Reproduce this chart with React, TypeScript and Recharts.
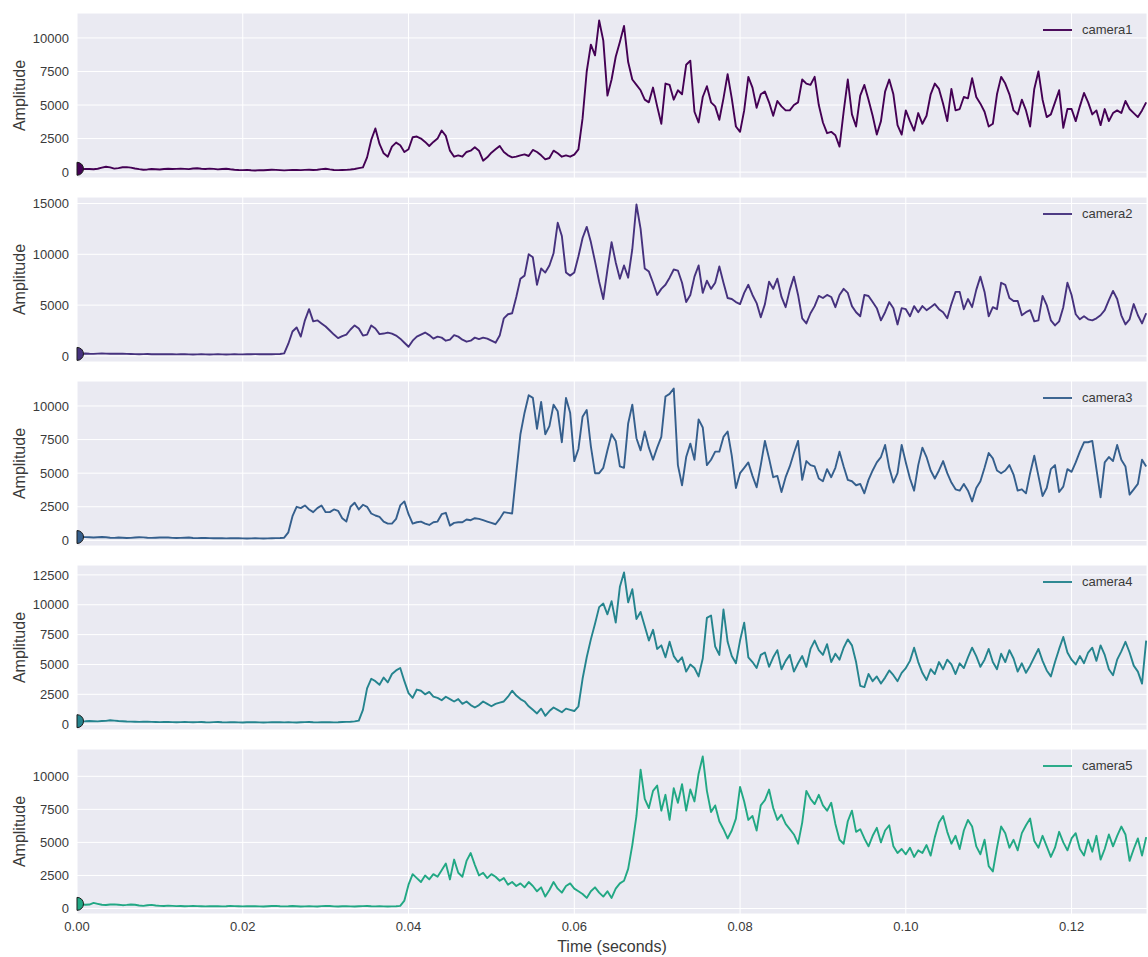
import { LineChart, Line, XAxis, YAxis, CartesianGrid, Legend, ReferenceDot } from 'recharts';

// sample spacing of the traces (seconds)
const DT = 0.0005;

const camera1 = [
  250, 220, 240, 230, 210, 250, 330, 400, 350, 260,
  300, 360, 370, 330, 270, 220, 180, 200, 230, 210,
  190, 230, 250, 230, 240, 260, 240, 220, 270, 290,
  250, 230, 260, 240, 200, 230, 250, 210, 180, 160,
  150, 170, 140, 120, 150, 140, 160, 180, 170, 150,
  130, 150, 160, 170, 150, 170, 180, 160, 180, 220,
  250, 200, 160, 150, 160, 170, 190, 230, 300, 350,
  1100, 2400, 3250, 2100, 1400, 1150, 1900, 2200, 2000, 1500,
  1700, 2600, 2650, 2500, 2250, 1950, 2250, 2500, 3100, 2700,
  1600, 1150, 1250, 1150, 1500, 1600, 1850, 1600, 850, 1100,
  1450, 1700, 1950, 1500, 1250, 1100, 1150, 1250, 1320, 1200,
  1650, 1500, 1250, 950, 1050, 1600, 1400, 1150, 1250, 1150,
  1300, 1700, 4000, 7500, 9500, 8700, 11300, 9800, 5700, 6900,
  8600, 9700, 10900, 8200, 6900, 6500, 6100, 5400, 5200, 6300,
  4900, 3600, 6600, 6500, 5400, 6100, 5800, 8000, 8300, 4500,
  3700, 5600, 6400, 5200, 4900, 3900, 5500, 7300, 5500, 3400,
  3000, 4600, 7100, 6300, 4800, 5800, 6000, 5200, 4200, 5300,
  4900, 4600, 4600, 5000, 5200, 6900, 6600, 6500, 7100, 5000,
  3700, 2900, 3000, 2750, 1900, 4500, 6900, 4300, 3400, 5700,
  6500, 5400, 4200, 2800, 3800, 6000, 6900, 5800, 3500, 2800,
  4600, 3800, 3100, 4400, 3600, 4200, 5800, 6600, 6200, 5100,
  3800, 6200, 4600, 4700, 5600, 5500, 7000, 5600, 5100, 4500,
  3400, 3600, 5800, 7100, 6600, 5800, 4600, 4300, 5400, 4600,
  3400, 6200, 7500, 5400, 4100, 4300, 5200, 6100, 3300, 4700,
  4700, 3800, 4900, 5900, 5200, 4300, 4600, 3500, 4700, 3800,
  4400, 4600, 4400, 5300, 4700, 4400, 4100, 4600, 5200,
];

const camera2 = [
  200, 220, 240, 210, 200, 230, 250, 230, 220, 210,
  230, 220, 200, 190, 180, 170, 180, 190, 170, 160,
  170, 180, 170, 160, 150, 160, 170, 150, 140, 150,
  160, 150, 140, 150, 160, 150, 140, 150, 160, 150,
  150, 160, 170, 180, 170, 160, 170, 170, 180, 190,
  250, 1200, 2400, 2800, 1900, 3500, 4600, 3400, 3500, 3200,
  2900, 2500, 2100, 1750, 1950, 2100, 2600, 3000, 2700, 2000,
  2100, 3000, 2700, 2150, 2200, 2300, 2200, 2000, 1700, 1300,
  900, 1500, 1900, 2100, 2300, 2050, 1700, 1900, 1800, 1500,
  1600, 2050, 1900, 1600, 1400, 1500, 1800, 1650, 1800, 1700,
  1500, 1300, 2000, 3700, 4100, 4200, 5800, 7600, 7900, 10000,
  9700, 7000, 8600, 8200, 8900, 10100, 13100, 11800, 8200, 7900,
  8200, 9800, 11600, 12700, 11200, 9300, 7300, 5600, 8500, 11200,
  9200, 7600, 8900, 7700, 10500, 14900, 12500, 8600, 8300, 7200,
  6000, 6600, 7000, 7700, 8500, 8400, 7200, 5300, 6000, 7800,
  8900, 6200, 7400, 6600, 7200, 8800, 7200, 5700, 5600, 5300,
  5100, 6200, 7000, 6000, 5200, 3800, 5100, 7300, 6600, 7600,
  5800, 4800, 6500, 7800, 6000, 3700, 3200, 4200, 4900, 5900,
  5700, 6000, 5800, 4800, 6000, 6600, 6200, 4900, 4300, 3900,
  6000, 5900, 5300, 4700, 3500, 4300, 5300, 4700, 3100, 4700,
  4600, 3900, 4900, 4300, 4900, 4500, 4800, 5100, 4600, 4300,
  3700, 5100, 6300, 6300, 4600, 5600, 4800, 6500, 7800, 6300,
  3900, 4800, 4600, 7200, 7000, 5700, 5400, 5400, 4000, 4300,
  4500, 3400, 3500, 5900, 5000, 3500, 3000, 3400, 4800, 7200,
  6000, 4100, 3600, 3900, 3600, 3500, 3700, 4000, 4500, 5500,
  6400, 5600, 4000, 3100, 3600, 5100, 4000, 3200, 4200,
];

const camera3 = [
  250, 260, 240, 230, 210, 230, 250, 230, 200, 190,
  210, 200, 180, 190, 210, 230, 220, 200, 190, 200,
  210, 220, 210, 190, 180, 190, 200, 210, 180, 170,
  180, 190, 170, 160, 170, 160, 150, 160, 170, 160,
  150, 140, 150, 160, 150, 140, 150, 160, 170, 180,
  200, 600, 1800, 2500, 2400, 2600, 2300, 2100, 2400, 2600,
  2100, 2100, 2300, 2200, 1650, 1400, 2500, 2800, 2300, 2650,
  2500, 2000, 1850, 1750, 1400, 1250, 1250, 1600, 2600, 2900,
  1950, 1250, 1350, 1400, 1250, 1150, 1350, 1400, 1950, 2050,
  1100, 1300, 1350, 1350, 1550, 1500, 1650, 1600, 1500, 1400,
  1300, 1200, 1600, 2100, 2050, 2000, 5000, 7900, 9500, 10800,
  10600, 8300, 10300, 7900, 8500, 10100, 9600, 7300, 10600, 9500,
  5900, 6800, 9200, 9700, 7000, 5000, 5000, 5400, 6700, 7900,
  7400, 5500, 5400, 8700, 10100, 7600, 6700, 8100, 6900, 6000,
  6900, 7700, 10700, 10900, 11300, 5600, 4100, 6200, 7200, 6000,
  9000, 8400, 5600, 6000, 6600, 6600, 7700, 8100, 6300, 3900,
  5000, 5400, 5800, 4800, 3950, 5600, 7400, 6100, 4700, 4800,
  3600, 4700, 5500, 6500, 7400, 4500, 5900, 5600, 5500, 4600,
  4400, 5300, 4700, 5400, 6600, 5500, 4500, 4400, 4100, 4200,
  3500, 4500, 5200, 5800, 6200, 7100, 5400, 4300, 5000, 7100,
  5800, 4600, 3700, 5600, 6900, 6200, 5200, 4600, 5200, 5900,
  5000, 4300, 3800, 3700, 4200, 3700, 2900, 3900, 4400, 5400,
  6500, 6100, 5200, 5000, 5200, 5600, 4900, 3700, 3800, 3500,
  5000, 6300, 4800, 3300, 3900, 5300, 5600, 3600, 4000, 5300,
  5100, 5800, 6600, 7300, 7300, 7400, 5300, 3200, 5800, 6200,
  5900, 7100, 6000, 5500, 3400, 3800, 4200, 6000, 5500,
];

const camera4 = [
  250, 230, 240, 260, 250, 230, 260, 280, 330, 300,
  260, 240, 220, 210, 200, 190, 200, 210, 190, 180,
  170, 180, 190, 170, 160, 170, 180, 170, 160, 170,
  180, 160, 150, 170, 180, 160, 150, 160, 170, 150,
  140, 160, 170, 160, 150, 140, 150, 160, 170, 160,
  150, 160, 150, 140, 160, 170, 180, 160, 150, 160,
  170, 160, 150, 160, 180, 190, 200, 230, 300, 1200,
  3000, 3800, 3600, 3300, 3900, 3500, 4200, 4500, 4700, 3600,
  2600, 2200, 2900, 2800, 2500, 2700, 2300, 2200, 2000, 2300,
  2100, 1900, 2100, 1700, 1900, 1600, 1400, 1600, 1900, 1700,
  1500, 1700, 1800, 1900, 2300, 2800, 2400, 2100, 1900, 1500,
  1200, 900, 1300, 700, 1100, 1400, 1200, 1000, 1300, 1200,
  1100, 1500, 3800, 5600, 7100, 8400, 9800, 10100, 9200, 10300,
  8500, 11500, 12700, 10200, 11300, 8800, 9400, 8200, 7000, 7900,
  6300, 6600, 5600, 6900, 5700, 5200, 5600, 4400, 5000, 4700,
  4000, 5500, 8900, 9100, 6500, 5800, 9600, 6900, 5700, 5100,
  7000, 8500, 5600, 5200, 4700, 5800, 6000, 4800, 5600, 6200,
  4600, 5300, 5800, 4400, 5100, 5700, 4800, 6300, 7000, 6200,
  5800, 6700, 5200, 5900, 5400, 6400, 7100, 6600, 5200, 3200,
  3100, 4200, 3600, 4000, 3400, 3900, 4500, 4100, 3600, 4300,
  4700, 5300, 6400, 5200, 4300, 3700, 4600, 4200, 5200, 4600,
  5400, 5000, 4200, 5100, 4700, 5600, 6400, 5700, 4800, 5400,
  6300, 5200, 4600, 5900, 5200, 6200, 5500, 4400, 5100, 4300,
  4900, 5600, 6300, 5300, 4500, 4000, 5200, 6300, 7300, 6000,
  5400, 5000, 5700, 5100, 6000, 6400, 5300, 6600, 5800, 4600,
  4100, 5400, 6100, 6900, 6000, 4900, 4400, 3400, 7000,
];

const camera5 = [
  350, 320, 280, 300, 420, 350, 280, 260, 300, 310,
  280, 250, 270, 300, 280, 230, 200, 240, 270, 230,
  200, 190, 220, 200, 180, 190, 170, 180, 200, 180,
  170, 160, 170, 180, 170, 160, 170, 200, 180, 170,
  160, 170, 180, 170, 160, 150, 170, 190, 200, 170,
  160, 170, 190, 170, 150, 160, 170, 160, 150, 180,
  200, 190, 160, 150, 170, 180, 160, 150, 170, 180,
  190, 170, 160, 170, 160, 150, 160, 170, 200, 600,
  1800, 2600, 2300, 2000, 2500, 2200, 2600, 2400, 2900, 3400,
  2200, 3700, 2700, 2400, 3600, 4200, 3300, 2500, 2700, 2300,
  2600, 2400, 2100, 2300, 1800, 2000, 1700, 1900, 1600, 2000,
  1700, 1300, 1600, 900, 1400, 2000, 1500, 1200, 1700, 1900,
  1500, 1300, 1100, 800, 1300, 1600, 1200, 900, 1300, 800,
  1500, 1900, 2100, 3000, 4800, 7000, 10500, 8300, 7600, 8900,
  9300, 7400, 8600, 6700, 9100, 8000, 9400, 7400, 9000, 8100,
  10200, 11500, 8900, 7300, 7800, 6600, 6000, 5300, 5900, 6800,
  9200, 8100, 6700, 7000, 5900, 7800, 8200, 9000, 7600, 6700,
  7100, 6400, 6000, 5600, 4900, 6500, 8900, 8300, 7900, 8600,
  7800, 7400, 8000, 6400, 5200, 4900, 6600, 7400, 5800, 6000,
  5300, 4700, 5500, 6100, 5000, 5900, 6300, 4700, 4200, 4500,
  4100, 4600, 3900, 4400, 4200, 4800, 4000, 5400, 6500, 7000,
  5800, 4900, 5500, 4500, 5900, 6700, 6200, 4700, 4100, 5200,
  3200, 2800, 4600, 6200, 5700, 4600, 5200, 4400, 5700, 6300,
  6800, 5100, 4600, 5500, 4700, 3900, 4600, 5800, 5000, 4400,
  5300, 5700, 4500, 4000, 5200, 4300, 5500, 3700, 4500, 5600,
  4700, 5500, 6200, 5600, 3600, 4500, 5300, 4000, 5400,
];

const xTicks = [0, 0.02, 0.04, 0.06, 0.08, 0.1, 0.12];
const ticks10k = [0, 2500, 5000, 7500, 10000];
const ticks12k = [0, 2500, 5000, 7500, 10000, 12500];
const ticks15k = [0, 5000, 10000, 15000];
const X_MAX = 0.1291;

const panels = [
  { name: 'camera1', values: camera1, color: '#440154', ticks: ticks10k },
  { name: 'camera2', values: camera2, color: '#46327e', ticks: ticks15k },
  { name: 'camera3', values: camera3, color: '#355f8d', ticks: ticks10k },
  { name: 'camera4', values: camera4, color: '#25848e', ticks: ticks12k },
  { name: 'camera5', values: camera5, color: '#22a884', ticks: ticks10k },
];

const W = 1148;
const PLOT_H = 165;
const STEP = 184;
const TOP = 13;
const X_AXIS_H = 46;
const BOTTOM_PAD = 10; // room for the "0" tick label under hidden x axes
const FONT = '"Liberation Sans", Arial, Helvetica, sans-serif';
const TEXT = '#3a3a3a';

// marker at t=0, only the right half shows (clipped at axes edge in the original)
const HalfDot = (props: any) => {
  const { cx, cy, fill } = props;
  const r = 6.5;
  return (
    <path
      d={`M${cx},${cy - r} A${r},${r} 0 0 1 ${cx},${cy + r} Z`}
      fill={fill}
      stroke="#1a1a1a"
      strokeWidth={1}
    />
  );
};

const LegendItem = ({ name, color }: { name: string; color: string }) => (
  <div style={{ display: 'flex', alignItems: 'center', fontFamily: FONT, fontSize: 13, color: TEXT }}>
    <svg width={29} height={6}>
      <line x1={0} y1={3} x2={29} y2={3} stroke={color} strokeWidth={1.9} />
    </svg>
    <span style={{ marginLeft: 10 }}>{name}</span>
  </div>
);

function Panel({ p, last }: { p: (typeof panels)[number]; last: boolean }) {
  const data = p.values.map((v, i) => ({ t: i * DT, v }));
  const lo = Math.min(...p.values);
  const hi = Math.max(...p.values);
  const pad = (hi - lo) * 0.05;
  const bottom = last ? 0 : BOTTOM_PAD;
  const height = PLOT_H + (last ? X_AXIS_H : BOTTOM_PAD);

  return (
    <LineChart width={W} height={height} data={data} margin={{ top: 0, right: 1, bottom, left: 0 }}>
      <CartesianGrid fill="#EAEAF2" stroke="#ffffff" strokeWidth={1} />
      <XAxis
        dataKey="t"
        type="number"
        domain={[0, X_MAX]}
        ticks={xTicks}
        interval={0}
        hide={!last}
        height={last ? X_AXIS_H : 0}
        tickFormatter={(v: number) => v.toFixed(2)}
        tickLine={false}
        axisLine={false}
        tick={{ fontSize: 13, fill: TEXT }}
        label={last ? { value: 'Time (seconds)', position: 'insideBottom', offset: 8, fontSize: 16, fill: TEXT } : undefined}
      />
      <YAxis
        type="number"
        domain={[lo - pad, hi + pad]}
        ticks={p.ticks}
        interval={0}
        width={77}
        tickLine={false}
        axisLine={false}
        tick={{ fontSize: 13, fill: TEXT }}
        label={{
          value: 'Amplitude',
          angle: -90,
          position: 'insideLeft',
          offset: 19,
          style: { textAnchor: 'middle', fontSize: 16, fill: TEXT },
        }}
      />
      <Legend
        layout="vertical"
        align="center"
        verticalAlign="middle"
        wrapperStyle={{ left: 1043, top: 9, width: 'auto' }}
        content={() => <LegendItem name={p.name} color={p.color} />}
      />
      <Line
        type="linear"
        dataKey="v"
        name={p.name}
        stroke={p.color}
        strokeWidth={1.9}
        strokeLinejoin="round"
        dot={false}
        activeDot={false}
        isAnimationActive={false}
      />
      <ReferenceDot x={0} y={p.values[0]} r={6.5} fill={p.color} shape={HalfDot} />
    </LineChart>
  );
}

export default function App() {
  return (
    <div style={{ position: 'absolute', left: 0, top: 0, width: W, height: 957, background: '#fff', fontFamily: FONT }}>
      {panels.map((p, i) => (
        <div key={p.name} style={{ position: 'absolute', left: 0, top: TOP + i * STEP }}>
          <Panel p={p} last={i === panels.length - 1} />
        </div>
      ))}
    </div>
  );
}
